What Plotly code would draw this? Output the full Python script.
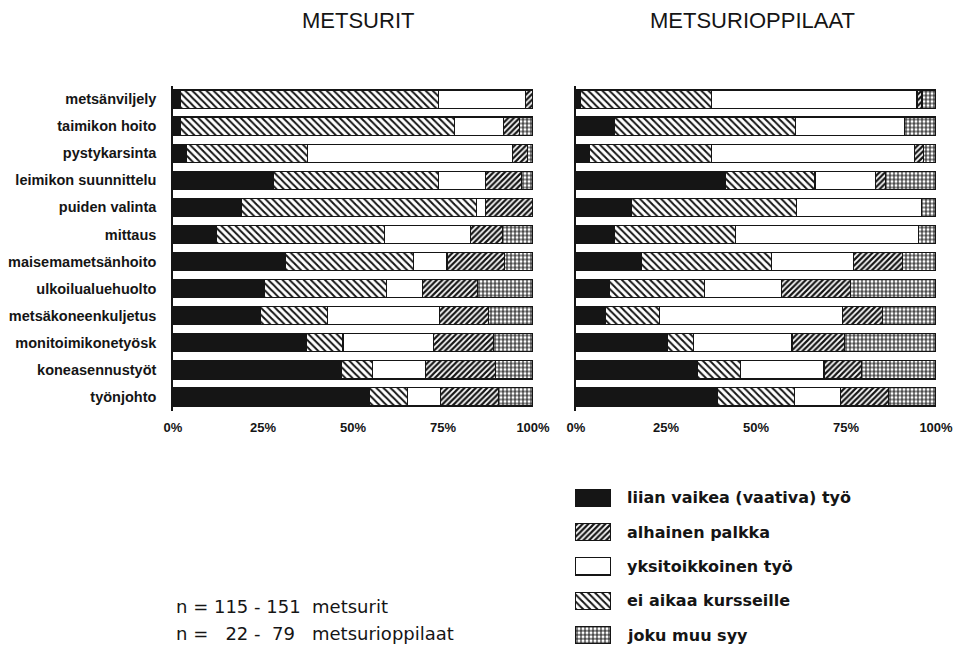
import plotly.graph_objects as go

categories = ["metsänviljely", "taimikon hoito", "pystykarsinta", "leimikon suunnittelu",
              "puiden valinta", "mittaus", "maisemametsänhoito", "ulkoilualuehuolto",
              "metsäkoneenkuljetus", "monitoimikonetyösk", "koneasennustyöt", "työnjohto"]

series_names = ["liian vaikea (vaativa) työ", "ei aikaa kursseille", "yksitoikkoinen työ",
                "alhainen palkka", "joku muu syy"]

# metsurit (%)
m_vaikea   = [2.0, 2.0, 3.7, 28.0, 19.0, 12.0, 31.3, 25.3, 24.4, 37.1, 46.7, 54.5]
m_eiaikaa  = [71.8, 76.3, 33.6, 45.8, 65.2, 46.8, 35.4, 33.9, 18.5, 10.1, 8.8, 10.7]
m_yksitoik = [24.2, 13.6, 57.1, 13.0, 2.6, 23.8, 9.4, 10.0, 31.2, 25.2, 14.6, 9.1]
m_palkka   = [2.0, 4.4, 4.0, 10.0, 13.2, 8.9, 16.0, 15.3, 13.6, 16.7, 19.5, 16.2]
m_muu      = [0.0, 3.7, 1.6, 3.2, 0.0, 8.5, 7.9, 15.5, 12.3, 10.9, 10.4, 9.5]

# metsurioppilaat (%)
o_vaikea   = [1.1, 10.8, 3.7, 41.4, 15.3, 10.8, 18.1, 9.4, 8.3, 25.4, 33.8, 39.4]
o_eiaikaa  = [36.6, 50.1, 34.0, 25.0, 46.0, 33.4, 36.3, 26.2, 15.0, 7.2, 11.8, 21.2]
o_yksitoik = [57.0, 30.4, 56.4, 16.7, 34.6, 50.9, 22.7, 21.4, 50.8, 27.4, 23.3, 12.9]
o_palkka   = [1.4, 0.0, 2.5, 2.9, 0.0, 0.0, 13.7, 19.3, 11.1, 14.6, 10.5, 13.4]
o_muu      = [3.9, 8.7, 3.4, 14.0, 4.1, 4.9, 9.2, 23.7, 14.8, 25.4, 20.6, 13.1]

panel_titles = ["METSURIT", "METSURIOPPILAAT"]
tick_vals = [0, 25, 50, 75, 100]
tick_text = ["0%", "25%", "50%", "75%", "100%"]
note_lines = ["n = 115 - 151&nbsp; metsurit",
              "n = &nbsp;&nbsp;22 - &nbsp;79&nbsp;&nbsp; metsurioppilaat"]
legend_order = ["liian vaikea (vaativa) työ", "alhainen palkka", "yksitoikkoinen työ",
                "ei aikaa kursseille", "joku muu syy"]

INK = "#151515"
styles = {
    "liian vaikea (vaativa) työ": dict(color=INK),
    "ei aikaa kursseille": dict(color="white", pattern=dict(shape="\\", fgcolor=INK,
                                 bgcolor="white", size=5, solidity=0.4)),
    "yksitoikkoinen työ": dict(color="white"),
    "alhainen palkka": dict(color="white", pattern=dict(shape="/", fgcolor=INK,
                             bgcolor="white", size=4, solidity=0.55)),
    "joku muu syy": dict(color="white", pattern=dict(shape="+", fgcolor=INK,
                          bgcolor="white", size=4, solidity=0.45)),
}

W, H = 961, 647
fig = go.Figure()


def mk(name):
    st = styles[name]
    m = dict(color=st["color"], line=dict(color=INK, width=1.2))
    if "pattern" in st:
        m["pattern"] = st["pattern"]
    return m


panels = [
    ("x", "y", [m_vaikea, m_eiaikaa, m_yksitoik, m_palkka, m_muu]),
    ("x2", "y2", [o_vaikea, o_eiaikaa, o_yksitoik, o_palkka, o_muu]),
]
for xa, ya, vals in panels:
    for name, v in zip(series_names, vals):
        fig.add_trace(go.Bar(x=v, y=categories, orientation="h", name=name,
                             marker=mk(name), xaxis=xa, yaxis=ya, showlegend=False))

# legend drawn as a small subplot
for i, name in enumerate(legend_order):
    fig.add_trace(go.Bar(x=[1], y=[i], orientation="h", width=0.5, marker=mk(name),
                         xaxis="x3", yaxis="y3", showlegend=False))
    fig.add_annotation(x=625 / W, xref="paper", y=i, yref="y3", text=name,
                       showarrow=False, xanchor="left", yanchor="middle",
                       font=dict(family="DejaVu Sans", size=16, color=INK, weight="bold"))

ytop, ybot = 85.5, 410.5
ydom = [1 - ybot / H, 1 - ytop / H]
axis_common_x = dict(range=[0, 100], tickvals=tick_vals, ticktext=tick_text, showgrid=False,
                     zeroline=False, showline=False, ticks="", automargin=False,
                     ticklabelstandoff=7,
                     tickfont=dict(family="Liberation Sans", size=13, color=INK, weight="bold"))
axis_common_y = dict(categoryorder="array", categoryarray=categories, autorange="reversed",
                     showgrid=False, zeroline=False, showline=True, linecolor=INK,
                     linewidth=1.5, ticks="", automargin=False)

fig.update_layout(
    template="none",
    width=W, height=H,
    margin=dict(l=0, r=0, t=0, b=0, autoexpand=False),
    paper_bgcolor="white", plot_bgcolor="white",
    barmode="stack", bargap=0.33,
    xaxis=dict(domain=[173 / W, 533 / W], anchor="y", **axis_common_x),
    xaxis2=dict(domain=[576 / W, 936 / W], anchor="y2", **axis_common_x),
    yaxis=dict(domain=ydom, anchor="x", showticklabels=True,
               tickfont=dict(family="Liberation Sans", size=14.5, color=INK, weight="bold"),
               ticklabelstandoff=12, **axis_common_y),
    yaxis2=dict(domain=ydom, anchor="x2", showticklabels=False, **axis_common_y),
    xaxis3=dict(domain=[575 / W, 611 / W], anchor="y3", range=[0, 1], visible=False),
    yaxis3=dict(domain=[0, 1 - 480.8 / H], anchor="x3", range=[4.35, -0.5], visible=False),
    font=dict(family="Liberation Sans", color=INK),
)

fig.add_annotation(x=358 / W, y=1 - 20 / H, xref="paper", yref="paper",
                   text=panel_titles[0], showarrow=False, xanchor="center", yanchor="middle",
                   font=dict(family="Liberation Sans", size=22, color=INK))
fig.add_annotation(x=752 / W, y=1 - 20 / H, xref="paper", yref="paper",
                   text=panel_titles[1], showarrow=False, xanchor="center", yanchor="middle",
                   font=dict(family="Liberation Sans", size=22, color=INK))

for j, line in enumerate(note_lines):
    fig.add_annotation(x=174 / W, y=1 - (606 + 27 * j) / H, xref="paper", yref="paper",
                       text=line, showarrow=False, xanchor="left", yanchor="middle",
                       font=dict(family="DejaVu Sans", size=18, color=INK))

fig.write_html("out.html", config={"displayModeBar": False},
               post_script="document.body.style.margin='0';"
               "document.body.style.overflow='hidden';")
